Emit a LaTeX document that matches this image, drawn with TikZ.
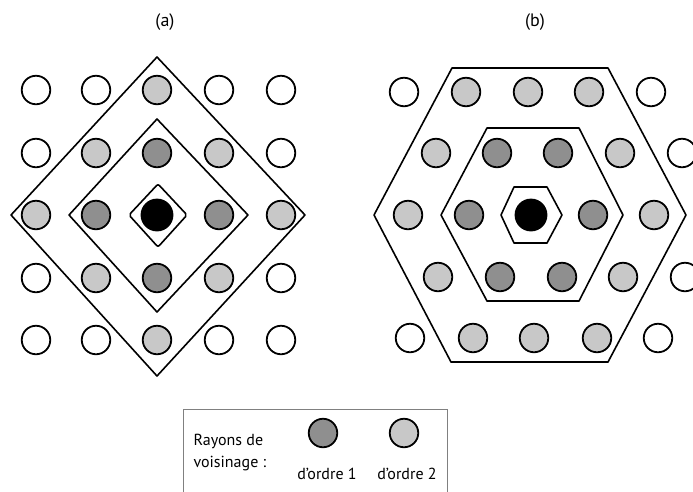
\documentclass[tikz,border=0pt]{standalone}
\usepackage{fontspec}
\setmainfont{PT Sans}
\definecolor{gris1}{HTML}{8F8F8F}
\definecolor{gris2}{HTML}{C8C8C8}
\tikzset{
  site/.style={circle,draw=black,line width=1.8pt,minimum size=28.5pt,inner sep=0pt},
  vide/.style={fill=white},
  ordA/.style={fill=gris1},
  ordB/.style={fill=gris2},
  centre/.style={fill=black,minimum size=31pt},
  contour/.style={line width=1.6pt,line join=round},
  titre/.style={font=\fontsize{18}{20}\selectfont},
  legende/.style={font=\fontsize{16}{22}\selectfont},
}
\begin{document}
\begin{tikzpicture}[x=1pt,y=-1pt]
    \useasboundingbox (0,0) rectangle (693,491);
    % titles
    \node[titre] (ta) at (165,22) {(a)};
    \node[titre] (tb) at (535,22) {(b)};
    % (a) square lattice
    \draw[contour] (157,57) -- (305,215) -- (157,376) -- (11,215) -- cycle;
    \draw[contour] (157,119) -- (248,215) -- (157,312) -- (69,215) -- cycle;
    \draw[contour,rounded corners=2pt] (158,184) -- (187,215) -- (158,247) -- (129,215) -- cycle;
    \foreach \x/\y/\s [count=\i] in {
        36/90/vide, 96/90/vide, 157/90/ordB, 219/90/vide, 281/90/vide,
        36/153/vide, 96/153/ordB, 157/153/ordA, 219/153/ordB, 281/153/vide,
        36/215/ordB, 96/215/ordA, 157/215/centre, 219/215/ordA, 281/215/ordB,
        36/278/vide, 96/278/ordB, 157/278/ordA, 219/278/ordB, 281/278/vide,
        36/340/vide, 96/340/vide, 157/340/ordB, 219/340/vide, 281/340/vide}
      \node[site,\s] (a\i) at (\x,\y) {};
    % (b) hexagonal lattice
    \draw[contour] (452,68) -- (608,68) -- (686,215) -- (608,362) -- (451,362) -- (374,215) -- cycle;
    \draw[contour] (487,128) -- (579,128) -- (623,215) -- (579,301) -- (487,301) -- (441,215) -- cycle;
    \draw[contour] (514,187) -- (547,187) -- (562,215) -- (547,243) -- (514,243) -- (501,215) -- cycle;
    \foreach \x/\y/\s [count=\i] in {
        404/92/vide, 466/92/ordB, 528/92/ordB, 589/92/ordB, 651/92/vide,
        436/153/ordB, 497/153/ordA, 558/153/ordA, 620/153/ordB, 682/153/vide,
        408/215/ordB, 469/215/ordA, 531/215/centre, 593/215/ordA, 654/215/ordB,
        438/277/ordB, 500/277/ordA, 562/277/ordA, 623/277/ordB, 685/277/vide,
        410/338/vide, 473/338/ordB, 534/338/ordB, 597/338/ordB, 658/338/vide}
      \node[site,\s] (b\i) at (\x,\y) {};
    % legend
    \draw[gray,line width=1pt] (183,495) -- (183,409) -- (447,409) -- (447,495);
    \node[legende,align=left,anchor=west] (leg) at (190,453) {Rayons de\\voisinage :};
    \node[site,ordA] (l1) at (323,433) {};
    \node[site,ordB] (l2) at (404,433) {};
    \node[legende] (t1) at (327,474) {d’ordre 1};
    \node[legende] (t2) at (407,474) {d’ordre 2};
\end{tikzpicture}
\end{document}
